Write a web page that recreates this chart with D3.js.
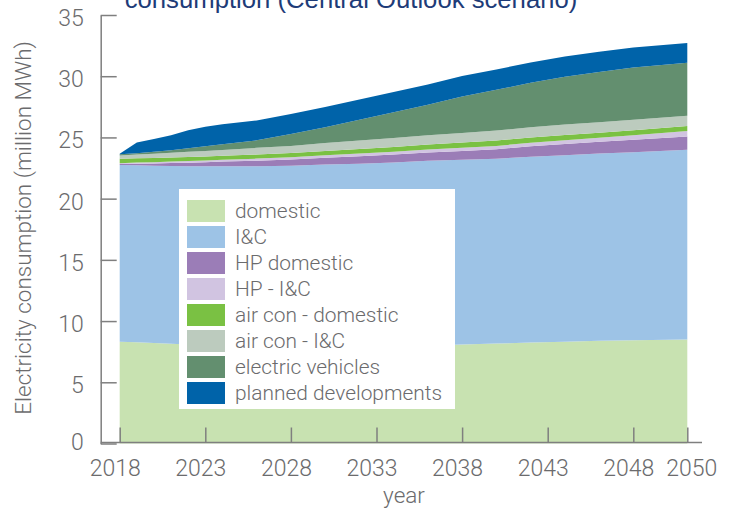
<!DOCTYPE html>
<html><head><meta charset="utf-8">
<script src="https://cdn.jsdelivr.net/npm/d3@7"></script>
<style>
body{margin:0;background:#fff}
text{font-family:Roboto,"Liberation Sans",Arial,sans-serif;font-weight:300;fill:#6b6b6d}
</style>
</head><body><svg id="chart" width="737" height="508"></svg>
<script>
const years = [2018,2019,2020,2021,2022,2023,2024,2026,2028,2030,2032,2034,2036,2038,2040,2042,2044,2046,2048,2050];
const seriesNames = ["domestic","I&C","HP domestic","HP - I&C","air con - domestic","air con - I&C","electric vehicles","planned developments"];
const domestic    = [8.32,8.27,8.20,8.14,8.08,8.04,8.00,7.95,7.91,7.91,7.93,7.95,8.00,8.08,8.16,8.24,8.32,8.39,8.44,8.49];
const ic          = [14.42,14.45,14.48,14.52,14.56,14.60,14.65,14.70,14.77,14.87,14.93,15.01,15.09,15.09,15.09,15.19,15.23,15.29,15.35,15.50];
const hpDomestic  = [0.08,0.13,0.19,0.25,0.30,0.34,0.38,0.45,0.51,0.56,0.60,0.64,0.68,0.73,0.79,0.85,0.91,0.97,1.03,1.09];
const hpIC        = [0.08,0.10,0.11,0.12,0.13,0.14,0.15,0.17,0.19,0.21,0.23,0.24,0.25,0.26,0.27,0.28,0.30,0.32,0.36,0.45];
const acDomestic  = [0.35,0.34,0.33,0.33,0.33,0.33,0.33,0.33,0.34,0.35,0.36,0.38,0.40,0.42,0.43,0.44,0.43,0.42,0.41,0.41];
const acIC        = [0.27,0.31,0.35,0.39,0.43,0.45,0.47,0.55,0.59,0.64,0.69,0.73,0.76,0.79,0.82,0.84,0.86,0.86,0.86,0.83];
const ev          = [0.10,0.11,0.18,0.21,0.29,0.38,0.47,0.61,0.96,1.30,1.71,2.11,2.49,2.98,3.33,3.63,3.91,4.10,4.26,4.33];
const planned     = [0.05,0.88,1.03,1.22,1.47,1.60,1.62,1.63,1.65,1.65,1.65,1.66,1.66,1.66,1.66,1.66,1.65,1.65,1.64,1.62];
const xTickValues = [2018,2023,2028,2033,2038,2043,2048,2050];
const yTickValues = [0,5,10,15,20,25,30,35];
const colors = ["#c8e2b1","#9dc3e6","#9b7db7","#d1c4e1","#7ac143","#bccbbe","#638f6f","#0063a9"];

const seriesData = [domestic, ic, hpDomestic, hpIC, acDomestic, acIC, ev, planned];
const rows = years.map((yr, i) => {
  const r = {year: yr};
  seriesNames.forEach((n, j) => r[n] = seriesData[j][i]);
  return r;
});

const svg = d3.select("#chart");
const x = d3.scaleLinear().domain([2018, 2048, 2050]).range([119.7, 633.3, 687.3]);
const y = d3.scaleLinear().domain([0, 35]).range([443.5, 15]);
const color = d3.scaleOrdinal().domain(seriesNames).range(colors);

const stacked = d3.stack().keys(seriesNames)(rows);
const area = d3.area().x(d => x(d.data.year)).y0(d => y(d[0])).y1(d => y(d[1]));

svg.append("g").selectAll("path").data(stacked).join("path")
  .attr("d", area).attr("fill", d => color(d.key));

// title (partly cut off at top, as in the reference)
svg.append("text").attr("x", 351).attr("y", 7.5).attr("text-anchor", "middle")
  .style("font-family", "'Liberation Sans',Arial,sans-serif").style("font-weight", 400)
  .style("font-size", "25.7px").style("fill", "#1e3c78")
  .text("consumption (Central Outlook scenario)");

// y axis
const yAxis = svg.append("g").attr("transform", "translate(100.7,0)")
  .call(d3.axisLeft(y).tickValues(yTickValues).tickSize(-16).tickSizeOuter(0).tickPadding(17));
yAxis.selectAll("text").attr("dy", d => d === 0 ? "0.25em" : "0.45em").style("font-size", "23px");

// x axis
const xAxis = svg.append("g").attr("transform", "translate(0,442.5)")
  .call(d3.axisBottom(x).tickValues(xTickValues).tickFormat(d3.format("d")).tickSize(-15).tickSizeOuter(0).tickPadding(17.5));
xAxis.select(".domain").remove();
xAxis.selectAll("text").style("font-size", "23px")
  .attr("dx", d => d === 2050 ? 4 : -5);
xAxis.append("line").attr("x1", 100.7).attr("x2", 702).attr("y1", 0).attr("y2", 0);

svg.selectAll(".tick line, .domain, g > line").attr("stroke", "#7f7f7f").attr("stroke-width", 1.5);

// axis titles
svg.append("text").attr("transform", "translate(31,228) rotate(-90)").attr("text-anchor", "middle")
  .style("font-size", "22.5px").text("Electricity consumption (million MWh)");
svg.append("text").attr("x", 404).attr("y", 503).attr("text-anchor", "middle")
  .style("font-size", "22.5px").text("year");

// legend
const lg = svg.append("g");
lg.append("rect").attr("x", 179).attr("y", 189).attr("width", 276).attr("height", 220).attr("fill", "#fff");
const items = lg.selectAll("g.item").data(seriesNames).join("g").attr("class", "item")
  .attr("transform", (d, i) => `translate(187,${200 + i * 26})`);
items.append("rect").attr("width", 38).attr("height", 22).attr("fill", d => color(d));
items.append("text").attr("x", 48).attr("y", 11).attr("dy", "0.35em")
  .style("font-size", "20.9px").text(d => d);
</script>
</body></html>
